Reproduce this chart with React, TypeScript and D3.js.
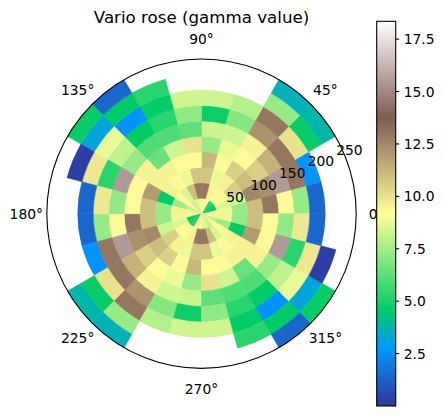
import React from 'react';
import * as d3 from 'd3';

// lag bin edges (distance units) and azimuth bin edges (degrees, half rose)
const LAG_EDGES = [0, 25, 50, 75, 100, 125, 150, 175, 200, 225, 250];
const AZIMUTH_EDGES = [0, 15, 30, 45, 60, 75, 90, 105, 120, 135, 150, 165, 180];

// gamma per azimuth bin (rows) and lag bin (columns); null = no pairs
const GAMMA_AZ_000 = [9.0, 8.8, 7.3, 11.0, 13.0, 9.3, 7.3, 1.4, null, null];
const GAMMA_AZ_015 = [4.6, 8.5, 8.3, 12.5, 12.3, 15.5, 13.0, 2.6, null, null];
const GAMMA_AZ_030 = [4.9, 9.3, 10.5, 11.0, 10.5, 11.3, 13.0, 10.0, 4.7, 3.8];
const GAMMA_AZ_045 = [5.2, 9.3, 9.5, 10.5, 9.3, 9.5, 12.2, 13.0, 7.3, 3.6];
const GAMMA_AZ_060 = [9.2, 9.5, 8.8, 9.3, 8.8, 8.3, 7.0, 7.8, null, null];
const GAMMA_AZ_075 = [9.3, 13.0, 10.8, 11.2, 7.3, 8.2, 4.8, 8.3, null, null];
const GAMMA_AZ_090 = [9.5, 13.0, 10.8, 9.3, 10.0, 6.3, 7.2, 8.3, null, null];
const GAMMA_AZ_105 = [8.5, 11.0, 8.8, 9.3, 8.3, 6.0, 5.3, 4.6, 5.3, null];
const GAMMA_AZ_120 = [8.0, 8.5, 9.3, 9.5, 6.5, 6.0, 4.6, 2.6, 4.6, 1.4];
const GAMMA_AZ_135 = [9.5, 9.3, 9.5, 9.5, 9.5, 7.3, 8.0, 8.8, 3.2, 4.7];
const GAMMA_AZ_150 = [8.0, 7.5, 4.6, 12.0, 9.3, 15.5, 5.3, 9.8, 0.3, null];
const GAMMA_AZ_165 = [9.5, 9.5, 7.3, 11.0, 9.3, 7.2, 9.8, 1.4, null, null];

const GAMMA_ROWS = [
  GAMMA_AZ_000, GAMMA_AZ_015, GAMMA_AZ_030, GAMMA_AZ_045, GAMMA_AZ_060, GAMMA_AZ_075,
  GAMMA_AZ_090, GAMMA_AZ_105, GAMMA_AZ_120, GAMMA_AZ_135, GAMMA_AZ_150, GAMMA_AZ_165,
];

const THETA_TICKS = [0, 45, 90, 135, 180, 225, 270, 315];
const R_TICKS = [50, 100, 150, 200, 250];
const CBAR_TICKS = [2.5, 5.0, 7.5, 10.0, 12.5, 15.0, 17.5];

const VMIN = 0;
const VMAX = 18.35;

// matplotlib "terrain" segment data
const TERRAIN_STOPS = [0, 0.15, 0.25, 0.5, 0.75, 1.0];
const TERRAIN_COLORS = ['#333399', '#0099ff', '#00cc66', '#ffff99', '#805c54', '#ffffff'];

const W = 445;
const H = 416;
const CX = 201.5;
const CY = 213.7;
const R = 154.7;
const FONT = 'DejaVu Sans';

export default function App() {
  const rScale = d3.scaleLinear().domain([0, 250]).range([0, R]);
  const color = d3
    .scaleLinear<string>()
    .domain(TERRAIN_STOPS.map(t => VMIN + t * (VMAX - VMIN)))
    .range(TERRAIN_COLORS)
    .clamp(true);
  const arc = d3.arc();
  const rad = (deg: number) => (deg * Math.PI) / 180;

  // each half-rose bin is drawn at its azimuth and at the opposite one
  const cells: { d: string; fill: string }[] = [];
  GAMMA_ROWS.forEach((row, i) => {
    [0, 180].forEach(offset => {
      const a0 = AZIMUTH_EDGES[i] + offset;
      const a1 = AZIMUTH_EDGES[i + 1] + offset;
      row.forEach((g, k) => {
        if (g == null) return;
        const d = arc({
          innerRadius: rScale(LAG_EDGES[k]),
          outerRadius: rScale(LAG_EDGES[k + 1]),
          startAngle: Math.PI / 2 - rad(a1),
          endAngle: Math.PI / 2 - rad(a0),
        } as any) as string;
        cells.push({ d, fill: color(g) });
      });
    });
  });

  const cbTop = 21.3;
  const cbBottom = 406;
  const cbX = 376.7;
  const cbW = 19;
  const cbScale = d3.scaleLinear().domain([VMIN, VMAX]).range([cbBottom, cbTop]);

  return (
    <svg
      width={W}
      height={H}
      style={{ position: 'absolute', left: 0, top: 0, background: '#fff' }}
      fontFamily={FONT}
    >
      <defs>
        <linearGradient id="terrain" x1="0" y1="1" x2="0" y2="0">
          {TERRAIN_STOPS.map((t, i) => (
            <stop key={i} offset={t} stopColor={TERRAIN_COLORS[i]} />
          ))}
        </linearGradient>
      </defs>

      <text x={CX} y={23.3} fontSize={16.67} textAnchor="middle" fill="#000">
        Vario rose (gamma value)
      </text>

      <g transform={`translate(${CX},${CY})`}>
        {cells.map((c, i) => (
          <path key={i} d={c.d} fill={c.fill} stroke={c.fill} strokeWidth={0.5} />
        ))}
        <circle r={R} fill="none" stroke="#000" strokeWidth={1.1} />

        {R_TICKS.map(v => {
          const a = rad(22.5);
          const x = rScale(v) * Math.cos(a);
          const y = -rScale(v) * Math.sin(a);
          return (
            <text key={v} x={x + 5} y={y} fontSize={13.89} textAnchor="middle" fill="#000">
              {v}
            </text>
          );
        })}

        {THETA_TICKS.map(t => {
          const a = rad(t);
          const rr = R + 20.5;
          return (
            <text
              key={t}
              x={rr * Math.cos(a)}
              y={-rr * Math.sin(a)}
              dy="0.36em"
              fontSize={13.89}
              textAnchor="middle"
              fill="#000"
            >
              {t}°
            </text>
          );
        })}
      </g>

      {/* colorbar */}
      <rect x={cbX} y={cbTop} width={cbW} height={cbBottom - cbTop} fill="url(#terrain)" />
      <rect
        x={cbX}
        y={cbTop}
        width={cbW}
        height={cbBottom - cbTop}
        fill="none"
        stroke="#000"
        strokeWidth={1.1}
      />
      {CBAR_TICKS.map(v => (
        <g key={v} transform={`translate(${cbX + cbW},${cbScale(v)})`}>
          <line x1={0} x2={3.5} stroke="#000" strokeWidth={1.1} />
          <text x={8} dy="0.36em" fontSize={13.89} fill="#000">
            {v.toFixed(1)}
          </text>
        </g>
      ))}
    </svg>
  );
}
